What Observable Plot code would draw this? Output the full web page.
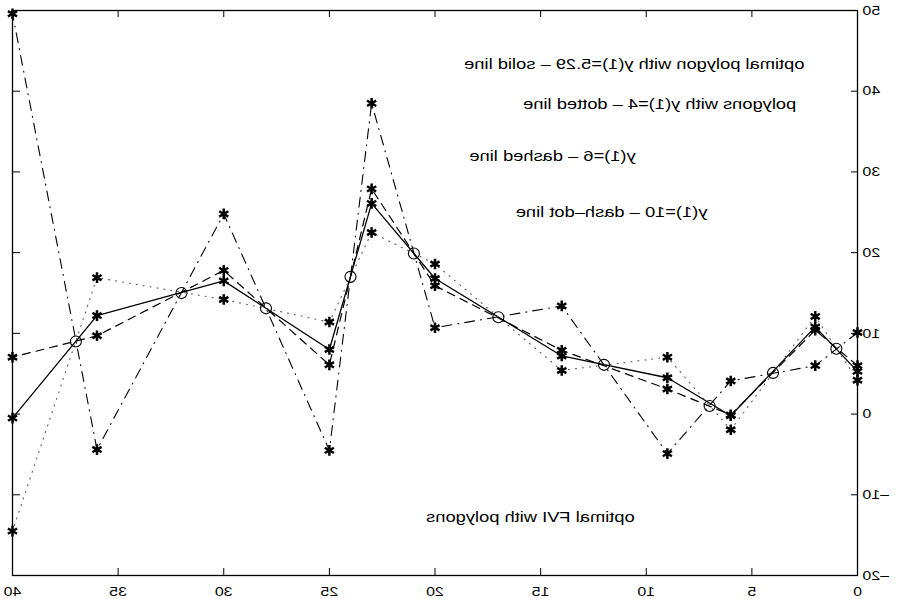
<!DOCTYPE html>
<html><head><meta charset="utf-8">
<script src="https://cdn.jsdelivr.net/npm/d3@7"></script>
<script src="https://cdn.jsdelivr.net/npm/@observablehq/plot@0.6"></script>
<style>
html,body{margin:0;padding:0;background:#fff;}
#chart svg{display:block;transform:scaleX(-1);}
</style></head><body><div id="chart"></div>
<script>
// polygon knots (x) and vertex values for each polygon
const knots = [0, 2, 6, 9, 14, 20, 23, 25, 30, 36, 40];
const solidY   = [5.29, 10.8, -0.2, 4.5, 7.2, 16.8, 26.1, 8.0, 16.5, 12.2, -0.5];
const dottedY  = [4.2, 12.1, -1.95, 7.05, 5.4, 18.6, 22.5, 11.4, 14.2, 16.9, -14.5];
const dashedY  = [6.0, 10.4, -0.1, 3.1, 7.9, 15.9, 27.9, 6.1, 17.8, 9.7, 7.05];
const dashdotY = [10.1, 6.0, 4.1, -4.9, 13.4, 10.7, 38.5, -4.5, 24.8, -4.4, 49.6];
// data points (circles)
const dataX = [1, 4, 7, 12, 17, 21, 24, 28, 32, 37];
const dataY = [8.1, 5.1, 1.0, 6.1, 12.0, 19.9, 17.0, 13.1, 15.0, 9.0];
// ticks
const xTicks = [0, 5, 10, 15, 20, 25, 30, 35, 40];
const yTicks = [-20, -10, 0, 10, 20, 30, 40, 50];
// annotation texts
const labels = [
  "optimal polygon with y(1)=5.29 \u2013 solid line",
  "polygons with y(1)=4 \u2013 dotted line",
  "y(1)=6 \u2013 dashed line",
  "y(1)=10 \u2013 dash\u2013dot line",
  "optimal FVI with polygons"
];

const series = [
  {name: "solid", ys: solidY, dash: null, width: 1.3, color: "#000"},
  {name: "dotted", ys: dottedY, dash: "1,6", width: 1.1, color: "#555"},
  {name: "dashed", ys: dashedY, dash: "8,6", width: 1.2, color: "#000"},
  {name: "dashdot", ys: dashdotY, dash: "10,6,1,6", width: 1.1, color: "#000"}
];
const rows = s => knots.map((x, i) => ({x, y: s.ys[i]}));
const circles = dataX.map((x, i) => ({x, y: dataY[i]}));
const fmt = d => d < 0 ? "\u2013" + Math.abs(d) : String(d);

const W = 898, H = 599, mL = 40, mR = 13, mT = 10, mB = 24;
const innerW = W - mL - mR, innerH = H - mT - mB;

const marks = [
  Plot.frame({stroke: "#000", strokeWidth: 1.3}),
  Plot.ruleX(xTicks, {insetTop: innerH - 7, stroke: "#000"}),
  Plot.ruleX(xTicks, {insetBottom: innerH - 7, stroke: "#000"}),
  Plot.ruleY(yTicks, {insetRight: innerW - 7, stroke: "#000"}),
  Plot.ruleY(yTicks, {insetLeft: innerW - 7, stroke: "#000"}),
  Plot.text(xTicks, {x: d => d, y: () => -20, text: fmt, dy: 16, fontSize: 13, fill: "#000"}),
  Plot.text(yTicks, {x: () => 0, y: d => d, text: fmt, dx: -5, textAnchor: "end", fontSize: 13, fill: "#000"})
];
for (const s of series) {
  marks.push(Plot.line(rows(s), {x: "x", y: "y", stroke: s.color, strokeWidth: s.width, strokeDasharray: s.dash}));
}
for (const s of series) {
  marks.push(Plot.dot(rows(s), {x: "x", y: "y", symbol: "asterisk", r: 5, stroke: "#000", strokeWidth: 2.5}));
}
marks.push(Plot.dot(circles, {x: "x", y: "y", r: 5.5, stroke: "#000", strokeWidth: 1.1, fill: "none"}));
const lx = [2.51, 2.9, 10.5, 7.1, 10.55], ly = [43.3, 38.4, 32.0, 25.0, -12.8];
labels.forEach((t, i) => {
  marks.push(Plot.text([t], {x: () => lx[i], y: () => ly[i], text: d => d, textAnchor: "start", fontSize: 15, fill: "#000"}));
});

const chart = Plot.plot({
  width: W, height: H,
  marginLeft: mL, marginRight: mR, marginTop: mT, marginBottom: mB,
  style: {fontFamily: "'Liberation Sans', Arial, sans-serif", background: "#fff", color: "#000"},
  x: {domain: [0, 40], axis: null},
  y: {domain: [-20, 50], axis: null},
  marks
});
document.getElementById("chart").appendChild(chart);
// stretch glyphs horizontally, like the reference's wide lettering
chart.querySelectorAll("text").forEach(t => {
  const w = t.getComputedTextLength();
  if (w > 0) {
    t.setAttribute("textLength", (w * 1.22).toFixed(1));
    t.setAttribute("lengthAdjust", "spacingAndGlyphs");
  }
});
</script></body></html>
